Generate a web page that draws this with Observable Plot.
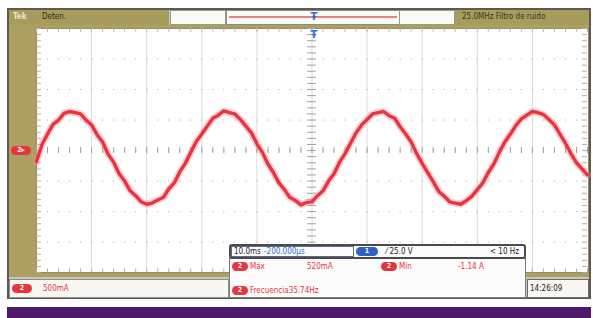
<!DOCTYPE html>
<html>
<head>
<meta charset="utf-8">
<script src="https://cdn.jsdelivr.net/npm/d3@7"></script>
<script src="https://cdn.jsdelivr.net/npm/@observablehq/plot@0.6"></script>
<style>
  html, body { margin: 0; padding: 0; background: #ffffff; }
  body { width: 593px; height: 318px; position: relative; overflow: hidden;
         font-family: "Liberation Sans Narrow", "DejaVu Sans Condensed", "Liberation Sans", sans-serif; }
  .abs { position: absolute; box-sizing: border-box; }
  .txt { font-size: 8px; line-height: 1; white-space: nowrap; }
  .badge { position: absolute; box-sizing: border-box; border-radius: 6px; color: #fff; font-size: 7px;
           font-weight: bold; text-align: center; line-height: 9px; height: 9px; }
</style>
</head>
<body>
<script>
// ---------- data ----------
// time base: 10 ms/div, 10 divisions; channel 2: 500 mA/div, 8 divisions
const timesMs = d3.range(0, 101, 1); // sample instants (ms)
const currentA = [
  -0.18, 0.10, 0.27, 0.43, 0.50, 0.61, 0.64, 0.62, 0.60, 0.50, 0.42, 0.26, 0.14, -0.06,
  -0.19, -0.38, -0.50, -0.66, -0.74, -0.84, -0.88, -0.86, -0.81, -0.77, -0.63, -0.53, -0.35, -0.21,
  -0.03, 0.15, 0.27, 0.40, 0.53, 0.58, 0.65, 0.62, 0.60, 0.51, 0.40, 0.29, 0.11, -0.03,
  -0.22, -0.36, -0.53, -0.64, -0.77, -0.82, -0.89, -0.85, -0.84, -0.74, -0.66, -0.50, -0.38, -0.19,
  -0.05, 0.12, 0.29, 0.42, 0.51, 0.60, 0.62, 0.64, 0.57, 0.53, 0.39, 0.27, 0.14, -0.05,
  -0.21, -0.36, -0.51, -0.67, -0.75, -0.84, -0.86, -0.88, -0.82, -0.75, -0.64, -0.53, -0.36, -0.22,
  -0.03, 0.14, 0.27, 0.41, 0.52, 0.58, 0.64, 0.62, 0.59, 0.51, 0.42, 0.27, 0.12, -0.05,
  -0.20, -0.30, -0.40
];
const gridTimes = [0, 10, 20, 30, 40, 50, 60, 70, 80, 90, 100];
const gridCurrents = [-2, -1.5, -1, -0.5, 0, 0.5, 1, 1.5, 2];
const minorTimes = d3.range(0, 100.01, 2);
const minorCurrents = d3.range(-2, 2.001, 0.1);

// UI texts
const topLeftLabels = ["Tek", "Deten."];
const topRightLabel = "25.0MHz  Filtro de ruido";
const channelScale = "500mA";
const timebase = "10.0ms";
const horizPos = "-200.000µs";
const triggerChannel = "1";
const triggerLevel = "⁄ 25.0 V";
const triggerFreq = "< 10 Hz";
const measNames = ["Máx", "Mín", "Frecuencia"];
const measValues = ["520mA", "-1.14 A", "35.74Hz"];
const clock = "14:26:09";

const series = timesMs.map((t, i) => ({t, a: currentA[i]}));

// ---------- chrome ----------
function box(x, y, w, h, style = "", html = "") {
  const d = document.createElement("div");
  d.className = "abs";
  d.style.cssText = `left:${x}px;top:${y}px;width:${w}px;height:${h}px;${style}`;
  d.innerHTML = html;
  document.body.appendChild(d);
  return d;
}
function text(x, y, s, style = "") {
  const d = document.createElement("div");
  d.className = "abs txt";
  d.style.cssText = `left:${x}px;top:${y}px;z-index:5;${style}`;
  d.textContent = s;
  document.body.appendChild(d);
  return d;
}
function badge(x, y, w, s, bg) {
  const d = document.createElement("div");
  d.className = "badge";
  d.style.cssText = `left:${x}px;top:${y}px;width:${w}px;background:${bg};z-index:6;`;
  d.textContent = s;
  document.body.appendChild(d);
}

// outer frame
box(7, 8, 584, 291, "background:#c9c6bd;border:2px solid #5d5a55;");
// top bar
box(9, 10, 160, 15, "background:#a89c5c;");
box(170, 10, 56, 15, "background:#fbfbf6;border:1px solid #9a9a90;");
box(226, 10, 174, 15, "background:#fbfbf6;border:1px solid #8c8c84;");
box(229, 16, 168, 2, "background:#ec7f80;");
box(399, 10, 56, 15, "background:#fbfbf6;border:1px solid #9a9a90;");
box(455, 10, 134, 15, "background:#a89c5c;");
text(13, 13, topLeftLabels[0], "color:#e8e4cc;font-weight:bold;");
text(42, 13, topLeftLabels[1], "color:#2a2a1a;");
text(462, 13, topRightLabel, "color:#3a3620;");
// left strip and bottom strip (olive)
box(9, 25, 27, 252, "background:#ab9f62;");
box(9, 272, 580, 5, "background:#ab9f62;");
box(36, 25, 553, 3, "background:#ab9f62;");
// ground marker for channel 2
box(11, 146, 20, 9, "background:#e8343c;border-radius:5px;color:#fff;font-size:7px;font-weight:bold;text-align:center;line-height:9px;", "2▸");

// bottom status bar
box(9, 279, 220, 19, "background:#f7f7f3;border:1px solid #8e8e88;");
badge(12, 284, 20, "2", "#e8343c");
text(43, 285, channelScale, "color:#e8343c;");
box(527, 279, 62, 19, "background:#f7f7f3;border:1px solid #6e6e68;");
text(530, 285, clock, "color:#222;");

// ---------- the trace (Observable Plot) ----------
const chart = Plot.plot({
  width: 553,
  height: 245,
  margin: 0,
  x: {domain: [0, 100], axis: null},
  y: {domain: [-2, 2], axis: null},
  style: {background: "transparent", overflow: "visible"},
  marks: [
    Plot.ruleX(gridTimes.slice(1, -1), {stroke: "#dcdcdc", strokeWidth: 1}),
    Plot.ruleY(gridCurrents.slice(1, -1), {stroke: "#a5a5a5", strokeWidth: 1, strokeDasharray: "1 10.06"}),
    Plot.ruleX(minorTimes, {y1: -0.05, y2: 0.05, stroke: "#a0a0a0"}),
    Plot.ruleY(minorCurrents, {x1: 49.2, x2: 50.8, stroke: "#a0a0a0"}),
    Plot.ruleX(minorTimes, {y1: 2, y2: 1.94, stroke: "#b0b0b0"}),
    Plot.ruleX(minorTimes, {y1: -2, y2: -1.94, stroke: "#b0b0b0"}),
    Plot.ruleY(minorCurrents, {x1: 0, x2: 0.9, stroke: "#b0b0b0"}),
    Plot.ruleY(minorCurrents, {x1: 100, x2: 99.1, stroke: "#b0b0b0"}),
    Plot.line(series, {x: "t", y: "a", stroke: "#f28a92", strokeWidth: 7, strokeOpacity: 0.4}),
    Plot.line(series, {x: "t", y: "a", stroke: "#e8343e", strokeWidth: 3.4})
  ]
});
const holder = box(36, 28, 553, 245, "background:#ffffff;border:1px solid #9b8a55;overflow:visible;");
chart.style.position = "absolute";
chart.style.left = "-1px";
chart.style.top = "-1px";
holder.appendChild(chart);

// trigger position markers (blue), above the plot
box(310, 10, 8, 13, "z-index:7;color:#2f6fd0;font-size:11px;font-weight:bold;line-height:13px;text-align:center;", "Ŧ");
box(310, 29, 8, 12, "z-index:7;color:#2f6fd0;font-size:11px;font-weight:bold;line-height:12px;text-align:center;", "Ŧ");

// readout box (over the plot)
box(229, 258, 297, 40, "z-index:4;background:#fbfbfb;border:1px solid #7c7c78;");
box(229, 244, 297, 15, "z-index:4;background:#fbfbfb;border:2px solid #4a4a4a;border-radius:3px;");
box(231, 246, 123, 11, "z-index:5;border:1px solid #5a6a8a;");
text(234, 248, timebase, "color:#222;");
text(264, 248, horizPos, "color:#2f6fd0;");
badge(356, 247, 22, triggerChannel, "#2f62c0");
text(386, 248, triggerLevel, "color:#222;");
text(490, 248, triggerFreq, "color:#222;");
badge(232, 262, 16, "2", "#e8343c");
text(250, 263, measNames[0], "color:#e8343c;");
text(307, 263, measValues[0], "color:#e8343c;");
badge(381, 262, 16, "2", "#e8343c");
text(399, 263, measNames[1], "color:#e8343c;");
text(458, 263, measValues[1], "color:#e8343c;");
badge(232, 286, 16, "2", "#e8343c");
text(250, 287, measNames[2] + measValues[2], "color:#e8343c;");

// purple band
box(7, 307, 584, 11, "background:#4f1a6c;");
</script>
</body>
</html>
